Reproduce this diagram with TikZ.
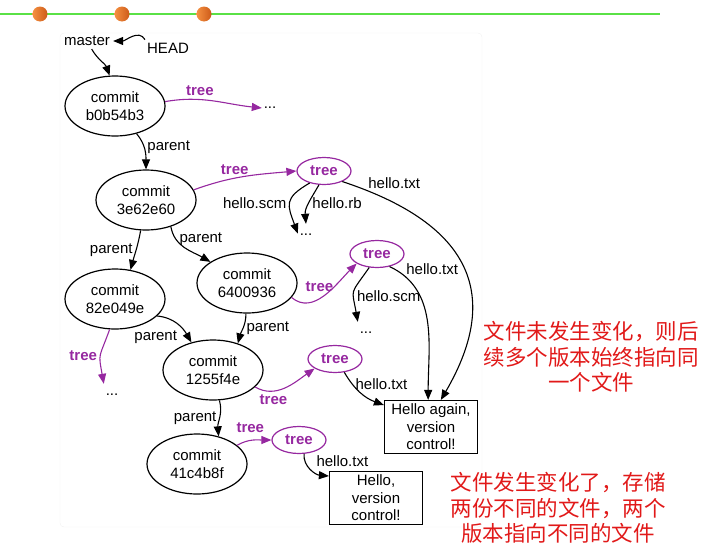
\documentclass[tikz,border=0pt]{standalone}
\usepackage{fontspec}
\setmainfont{Liberation Sans}
\newfontfamily\cjk{Noto Sans CJK SC}
\usetikzlibrary{shapes.geometric,arrows.meta}
\definecolor{treepurple}{RGB}{150,40,160}
\definecolor{notered}{RGB}{225,25,25}
\definecolor{rulegreen}{RGB}{90,225,70}
\definecolor{dotlight}{RGB}{245,145,65}
\definecolor{dotdark}{RGB}{205,90,25}
\newcommand{\gitfont}{\fontsize{15}{17.5}\selectfont}

\begin{document}
\begin{tikzpicture}[x=1pt,y=1pt,font=\gitfont,
        every node/.style={inner sep=3pt},
        commit/.style={ellipse,draw,line width=1.2pt,minimum width=100pt,minimum height=60pt,inner sep=0pt,align=center,font=\fontsize{15}{18}\selectfont},
        treenode/.style={ellipse,draw=treepurple,text=treepurple,line width=1.2pt,minimum width=54pt,minimum height=27pt,inner sep=0pt,font=\gitfont\bfseries},
        filebox/.style={draw,line width=1.2pt,minimum width=93pt,minimum height=53pt,inner sep=0pt,align=center},
        more/.style={minimum width=16pt,minimum height=22pt,inner sep=0pt},
        ptr/.style={-{Triangle[length=10pt,width=8pt]},line width=1.1pt},
        treeptr/.style={ptr,treepurple},
        tlabel/.style={text=treepurple,font=\gitfont\bfseries},
        note/.style={text=notered,align=center,font=\cjk\fontsize{21.5}{25.5}\selectfont}]
    \useasboundingbox (0,0) rectangle (703,-557);
    \draw[rulegreen,line width=2pt] (0,-14) -- (660,-14);
    \foreach \x in {40,122,204}
        \shade[left color=dotlight,right color=dotdark] (\x,-14) circle (7.5);
    \draw[gray!12,rounded corners=4pt] (60,-33) rectangle (482,-527);

    \node (master) at (87,-41) {master};
    \node (head) at (168,-48) {HEAD};
    \node[commit] (cb0b54b3) at (115,-106) {commit\\b0b54b3};
    \node[commit] (c3e62e60) at (146,-200) {commit\\3e62e60};
    \node[commit] (c82e049e) at (115,-299) {commit\\82e049e};
    \node[commit] (c6400936) at (247,-283) {commit\\6400936};
    \node[commit] (c1255f4e) at (213,-370) {commit\\1255f4e};
    \node[commit] (c41c4b8f) at (197,-464) {commit\\41c4b8f};
    \node[treenode] (tree3e6) at (324,-171) {tree};
    \node[treenode] (tree640) at (377,-254) {tree};
    \node[treenode] (tree125) at (335,-359) {tree};
    \node[treenode] (tree41c) at (299,-440) {tree};
    \node[more] (moreb0b) at (270,-108) {...};
    \node[more] (more3e6) at (306,-235) {...};
    \node[more] (more640) at (366,-333) {...};
    \node[more] (more82e) at (112,-395) {...};
    \node[filebox] (again) at (431,-427) {Hello again,\\version\\control!};
    \node[filebox] (hello) at (376,-498) {Hello,\\version\\control!};

    \draw[ptr] (head.160) to[out=120,in=0] (master.east);
    \draw[ptr] (master.-60) to[out=-60,in=110] (cb0b54b3.100);
    \draw[treeptr] (cb0b54b3.5) to[out=10,in=174] node[pos=.35,above,tlabel] {tree} (moreb0b.west);
    \draw[ptr] (cb0b54b3.-52) to[out=-50,in=90] node[pos=.4,right] {parent} (c3e62e60.north);
    \draw[treeptr] (c3e62e60.12) to[out=20,in=185] node[pos=.4,above,tlabel] {tree} (tree3e6.west);
    \draw[ptr] (tree3e6.-140) to[out=-150,in=110,looseness=1.5] node[pos=.5,left] {hello.scm} (more3e6.170);
    \draw[ptr] (tree3e6.-110) to[out=-120,in=95] node[pos=.5,right] {hello.rb} (more3e6.north);
    \draw[ptr] (tree3e6.-30) .. controls (465,-222) and (505,-290) .. (again.70)
        node[pos=.07,anchor=south west,inner sep=1pt] {hello.txt};
    \draw[ptr] (c3e62e60.-100) to[out=-100,in=75] node[pos=.5,left] {parent} (c82e049e.62);
    \draw[ptr] (c3e62e60.-47) to[out=-80,in=150] node[pos=.25,right] {parent} (c6400936.150);
    \draw[treeptr] (c6400936.-18) to[out=-40,in=-135] node[pos=.42,above=3pt,tlabel] {tree} (tree640.-155);
    \draw[ptr] (tree640.-120) to[out=-125,in=100,looseness=1.6] node[pos=.6,right] {hello.scm} (more640.north west);
    \draw[ptr] (tree640.-45) to[out=-25,in=90] node[pos=.12,anchor=south west,inner sep=1pt] {hello.txt} (again.96);
    \draw[ptr] (c82e049e.-22) to[out=-5,in=120] node[pos=.6,below left] {parent} (c1255f4e.128);
    \draw[ptr] (c6400936.-92) to[out=-90,in=75] node[pos=.5,right] {parent} (c1255f4e.47);
    \draw[treeptr] (c82e049e.-100) to[out=-110,in=100,looseness=1.5] node[pos=.5,left,tlabel] {tree} (more82e.north west);
    \draw[treeptr] (c1255f4e.-22) to[out=-30,in=-145] node[pos=.3,below,tlabel] {tree} (tree125.-155);
    \draw[ptr] (tree125.-55) to[out=-60,in=160] node[pos=.25,right] {hello.txt} (again.155);
    \draw[ptr] (c1255f4e.-78) to[out=-75,in=95] node[pos=.5,left] {parent} (c41c4b8f.52);
    \draw[treeptr] (c41c4b8f.25) to[out=30,in=180] node[pos=.4,above=4pt,tlabel] {tree} (tree41c.west);
    \draw[ptr] (tree41c.-70) to[out=-95,in=175] node[pos=.2,right=8pt] {hello.txt} (hello.155);

    \node[note] (same) at (591,-357) {文件未发生变化，则后\\续多个版本始终指向同\\一个文件};
    \node[note] (changed) at (558,-508) {文件发生变化了，存储\\两份不同的文件，两个\\版本指向不同的文件};
\end{tikzpicture}
\end{document}
